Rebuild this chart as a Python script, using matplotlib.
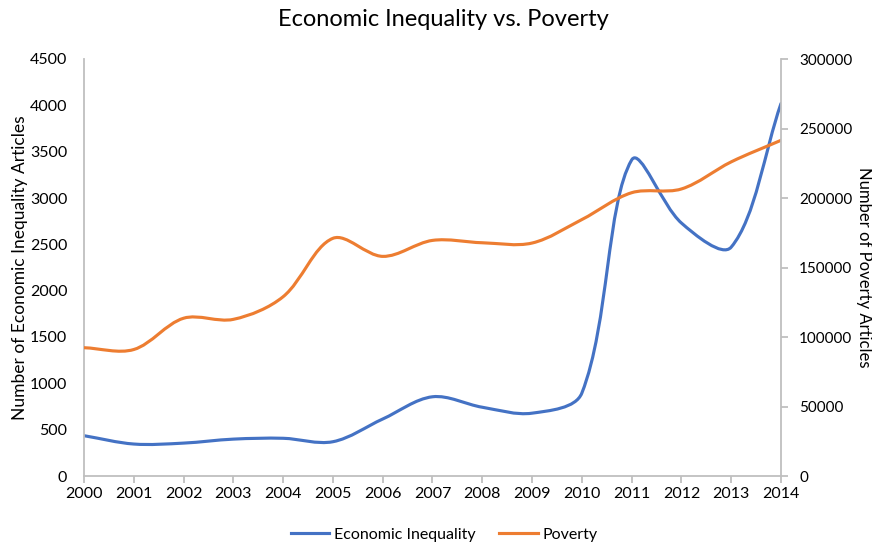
import matplotlib
matplotlib.use("Agg")
import matplotlib.pyplot as plt
from matplotlib.path import Path
from matplotlib.patches import PathPatch
from matplotlib.lines import Line2D
import numpy as np

plt.rcParams['font.family'] = ['Lato', 'DejaVu Sans']

years = [2000, 2001, 2002, 2003, 2004, 2005, 2006, 2007, 2008, 2009, 2010, 2011, 2012, 2013, 2014]
inequality = [435, 345, 355, 398, 407, 370, 615, 855, 742, 678, 895, 3410, 2730, 2470, 4020]
poverty = [92300, 91000, 113500, 112700, 129000, 171000, 158000, 169500, 167800, 167600, 184500, 203800, 206500, 226000, 241500]

left_ticks = [0, 500, 1000, 1500, 2000, 2500, 3000, 3500, 4000, 4500]
right_ticks = [0, 50000, 100000, 150000, 200000, 250000, 300000]

BLUE = '#4472C4'
ORANGE = '#ED7D31'
GRAY = '#BFBFBF'
TXT = '#000000'


def smooth_path(a, xs, ys):
    """Excel-like smoothed line: cubic Bezier segments, tangents weighted by
    neighbouring segment lengths in display space."""
    pts = a.transData.transform(np.column_stack([xs, ys]).astype(float))
    n = len(pts)
    verts = [pts[0]]
    codes = [Path.MOVETO]

    def ctrl(i):
        p0 = pts[max(i - 1, 0)]
        p1 = pts[i]
        p2 = pts[min(i + 1, n - 1)]
        d01 = np.hypot(*(p1 - p0))
        d12 = np.hypot(*(p2 - p1))
        tot = d01 + d12
        if tot == 0:
            return p1, p1
        tan = p2 - p0
        before = p1 - tan * (d01 / tot) / 3.0
        after = p1 + tan * (d12 / tot) / 3.0
        return before, after

    for i in range(n - 1):
        _, c1 = ctrl(i)
        c2, _ = ctrl(i + 1)
        verts += [c1, c2, pts[i + 1]]
        codes += [Path.CURVE4] * 3
    verts = a.transData.inverted().transform(np.array(verts))
    return Path(verts, codes)


fig = plt.figure(figsize=(8.72, 5.44), dpi=100)
ax = fig.add_axes([84 / 872, 1 - 476 / 544, (781 - 84) / 872, (476 - 59) / 544])
ax2 = ax.twinx()

ax.set_xlim(2000, 2014)
ax.set_ylim(0, 4500)
ax2.set_ylim(0, 300000)

ax.add_patch(PathPatch(smooth_path(ax, years, inequality), facecolor='none',
                       edgecolor=BLUE, lw=2.25, capstyle='round', joinstyle='round'))
ax2.add_patch(PathPatch(smooth_path(ax2, years, poverty), facecolor='none',
                        edgecolor=ORANGE, lw=2.25, capstyle='round', joinstyle='round'))

ax.set_xticks(years)
ax.set_xticklabels([str(y) for y in years])
ax.set_yticks(left_ticks)
ax.set_yticklabels([str(v) for v in left_ticks])
ax2.set_yticks(right_ticks)
ax2.set_yticklabels([str(v) for v in right_ticks])

for a in (ax, ax2):
    a.spines['top'].set_visible(False)
    for s in ('left', 'right', 'bottom'):
        a.spines[s].set_color(GRAY)
        a.spines[s].set_linewidth(1.3)
    a.tick_params(labelsize=11.5, colors=TXT)

ax.spines['right'].set_visible(False)
ax2.spines['left'].set_visible(False)
ax2.spines['bottom'].set_visible(False)
ax.tick_params(axis='y', length=0, pad=12)
ax.tick_params(axis='x', length=5, width=1.3, color=GRAY, pad=3)
ax2.tick_params(axis='y', length=5, width=1.3, color=GRAY, pad=8, labelsize=11)

ax.set_ylabel('Number of Economic Inequality Articles', fontsize=12.5)
ax.yaxis.set_label_coords((28 - 84) / 697, 0.5)
fig.text(864 / 872, 1 - 267 / 544, 'Number of Poverty Articles',
         rotation=-90, ha='center', va='center', fontsize=12)

fig.text(443 / 872, 1 - 20 / 544, 'Economic Inequality vs. Poverty', ha='center', va='center', fontsize=17)

handles = [Line2D([], [], color=BLUE, lw=2.25), Line2D([], [], color=ORANGE, lw=2.25)]
fig.legend(handles, ['Economic Inequality', 'Poverty'], loc='center', bbox_to_anchor=(444 / 872, 1 - 535 / 544),
           ncol=2, frameon=False, fontsize=11.5, handlelength=2.4, columnspacing=1.5, handletextpad=0.3)

fig.savefig('out.png', dpi=100)
